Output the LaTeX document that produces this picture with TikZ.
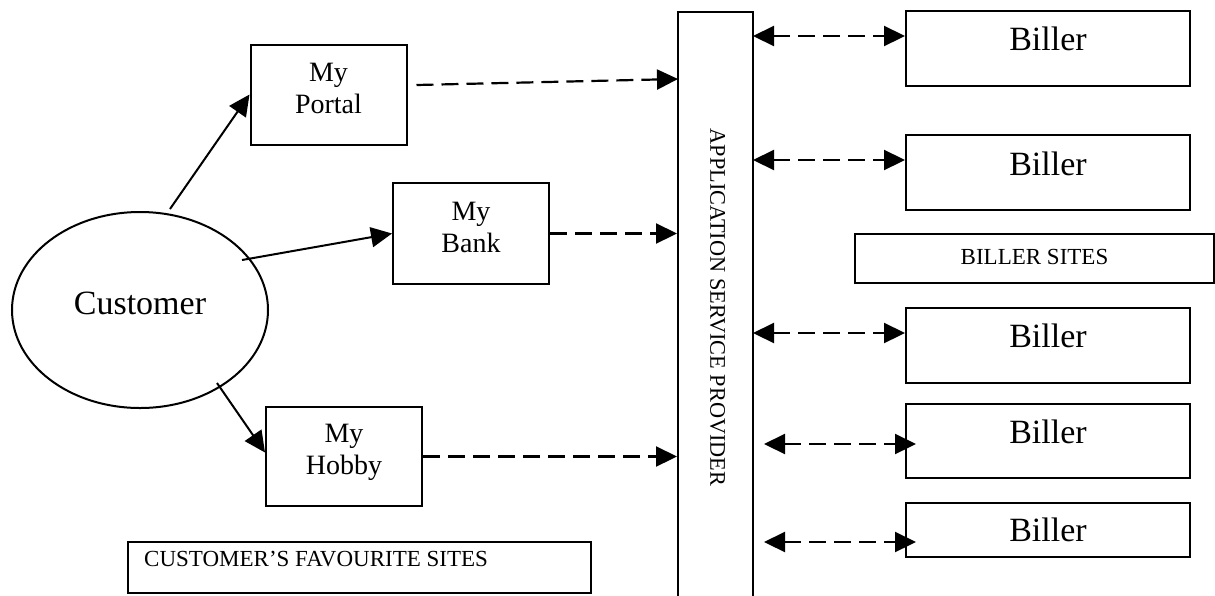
\documentclass[tikz,border=0pt]{standalone}
\usepackage{fontspec}
\setmainfont{Liberation Serif}
\usetikzlibrary{arrows.meta,shapes.geometric}
\newcommand\szBig{\fontsize{34}{40}\selectfont}
\newcommand\szMid{\fontsize{28}{32}\selectfont}
\newcommand\szSmall{\fontsize{23}{27}\selectfont}
\newcommand\szAsp{\fontsize{22.3}{26}\selectfont}
\begin{document}
\begin{tikzpicture}[x=1pt,y=-1pt,
  box/.style={draw, line width=2pt, rectangle, inner sep=0pt},
  lab/.style={inner sep=0pt},
  con/.style={line width=2pt, -{Triangle[length=21pt,width=20pt]}},
  dcon/.style={line width=2.2pt, dash pattern=on 17pt off 8pt, -{Triangle[length=21pt,width=20pt]}},
  bcon/.style={line width=2.2pt, dash pattern=on 17pt off 8pt, {Triangle[length=21pt,width=20pt]}-{Triangle[length=21pt,width=20pt]}},
  mybox/.style={box, minimum width=156pt, minimum height=100pt},
  billerbox/.style={box, minimum width=284pt, minimum height=75pt}
]
\useasboundingbox (0,0) rectangle (1215,595);
\clip (0,0) rectangle (1215,595);

% Customer
\node[draw, ellipse, line width=2pt, inner sep=0pt, minimum width=256pt, minimum height=196pt,
      label={[lab, font=\szBig, yshift=7pt]center:Customer}] (cust) at (140,310) {};

% customer's favourite sites
\node[mybox, label={[lab, font=\szMid, align=center, yshift=6pt]center:{My\\Portal}}] (portal) at (328.5,94.5) {};
\node[mybox, minimum height=101pt, label={[lab, font=\szMid, align=center, yshift=6pt]center:{My\\Bank}}] (bank) at (471,233.5) {};
\node[mybox, minimum height=99pt, label={[lab, font=\szMid, align=center, yshift=4pt]center:{My\\Hobby}}] (hobby) at (344,456.5) {};
\node[box, minimum width=463pt, minimum height=51pt,
      label={[lab, font=\szSmall, anchor=west, xshift=17pt, yshift=8pt]west:{CUSTOMER’S FAVOURITE SITES}}] (cfs) at (359.5,567.5) {};

% application service provider
\node[box, minimum width=75pt, minimum height=588pt,
      label={[lab, font=\szAsp, rotate=-90, xshift=1.5pt, yshift=2pt]center:{APPLICATION SERVICE PROVIDER}}] (asp) at (715.5,306) {};

% billers
\node[billerbox, label={[lab, font=\szBig, yshift=9.5pt]center:Biller}] (b1) at (1048,48.5) {};
\node[billerbox, label={[lab, font=\szBig, yshift=8.5pt]center:Biller}] (b2) at (1048,172.5) {};
\node[box, minimum width=359pt, minimum height=49pt,
      label={[lab, font=\szSmall, yshift=2pt]center:{BILLER SITES}}] (bsites) at (1034.5,258.5) {};
\node[billerbox, label={[lab, font=\szBig, yshift=9.5pt]center:Biller}] (b3) at (1048,345.5) {};
\node[billerbox, minimum height=74pt, label={[lab, font=\szBig, yshift=9pt]center:Biller}] (b4) at (1048,441) {};
\node[billerbox, minimum height=54pt, label={[lab, font=\szBig]center:Biller}] (b5) at (1048,530) {};

% connector end points
\coordinate (c1) at (170,209);
\coordinate (c2) at (242,260);
\coordinate (c3) at (217,383);
\coordinate (p1) at (678,79);
\coordinate (a1) at (753,36);
\coordinate (a2) at (753,160);
\coordinate (a3) at (753,333);
\coordinate (a4) at (764,444);
\coordinate (a5) at (764,542);

% customer to sites
\draw[con] (c1) -- (portal.west);
\draw[con] (c2) -- (bank.west);
\draw[con] (c3) -- ([yshift=4pt]hobby.west);

% sites to ASP
\draw[dcon] ([xshift=9pt,yshift=9.5pt]portal.east) -- (p1);
\draw[dcon] (bank.east) -- (bank.east -| asp.west);
\draw[dcon] (hobby.east) -- (hobby.east -| asp.west);

% ASP to billers
\draw[bcon] (a1) -- ([yshift=12.5pt]b1.west);
\draw[bcon] (a2) -- ([yshift=12.5pt]b2.west);
\draw[bcon] (a3) -- ([yshift=12.5pt]b3.west);
\draw[bcon] (a4) -- ([xshift=11pt,yshift=-3pt]b4.west);
\draw[bcon] (a5) -- ([xshift=11pt,yshift=-12pt]b5.west);
\end{tikzpicture}
\end{document}
